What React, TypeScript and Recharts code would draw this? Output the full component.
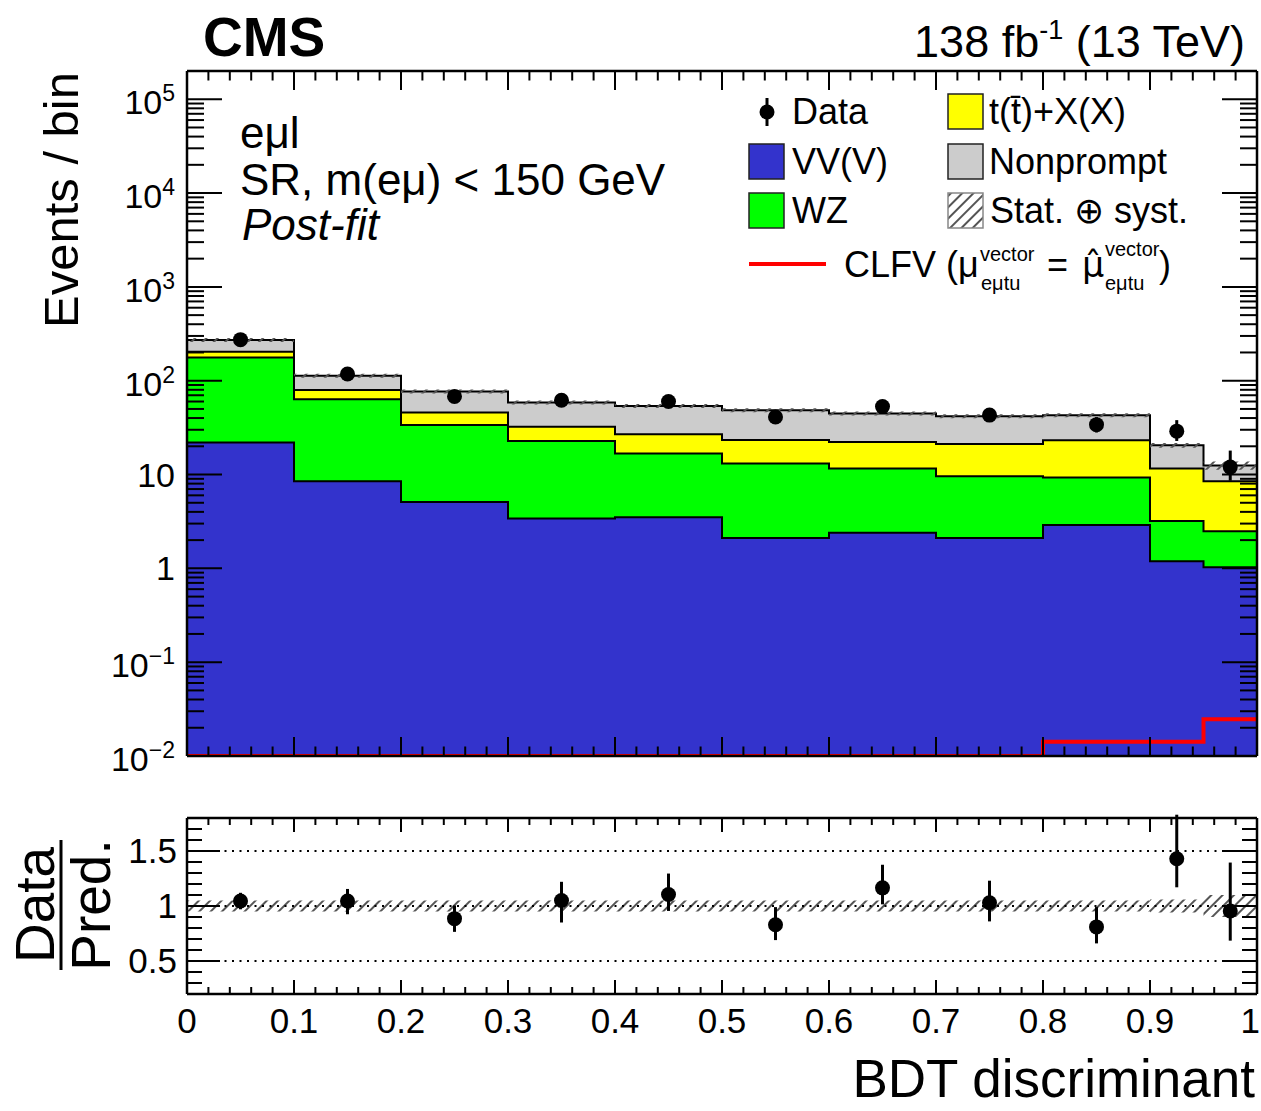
import { Area, ComposedChart, ErrorBar, Line, ReferenceLine, Scatter, XAxis, YAxis } from 'recharts';

// binning of the BDT discriminant
const binEdges = [0, 0.1, 0.2, 0.3, 0.4, 0.5, 0.6, 0.7, 0.8, 0.9, 0.95, 1];
const binCenters = [0.05, 0.15, 0.25, 0.35, 0.45, 0.55, 0.65, 0.75, 0.85, 0.925, 0.975];

// post-fit yields per bin (events / bin)
const vvv = [21.9, 8.5, 5.1, 3.4, 3.5, 2.1, 2.4, 2.1, 2.9, 1.19, 1.03];
const wz = [155, 55, 28.7, 19.4, 13.3, 11.0, 9.2, 7.5, 6.4, 2.0, 1.46];
const ttx = [27, 15.9, 12.0, 9.6, 10.1, 10.3, 10.6, 11.6, 13.9, 8.4, 6.0];
const nonprompt = [68, 33.6, 31.1, 26.2, 27.0, 25.1, 22.6, 20.7, 19.7, 8.9, 4.0];
const clfv = [0.01, 0.01, 0.01, 0.01, 0.01, 0.01, 0.01, 0.01, 0.0142, 0.0142, 0.0247];
const totalUnc = [0.05, 0.05, 0.05, 0.05, 0.05, 0.05, 0.05, 0.05, 0.05, 0.06, 0.1];

const dataCounts = [274, 118, 68, 62, 60, 41, 53, 43, 34, 29, 12];
const dataErrLo = [16, 11, 8, 7.8, 7.7, 6.4, 7.3, 6.6, 5.9, 6.2, 3.4];
const dataErrHi = [17, 12, 9, 8.8, 8.7, 7.4, 8.3, 7.6, 6.9, 9, 6];

const ratio = [1.045, 1.045, 0.885, 1.05, 1.105, 0.83, 1.165, 1.03, 0.81, 1.43, 0.955];
const ratioErrLo = [0.075, 0.12, 0.12, 0.2, 0.15, 0.14, 0.15, 0.17, 0.15, 0.26, 0.27];
const ratioErrHi = [0.075, 0.11, 0.12, 0.17, 0.19, 0.16, 0.21, 0.2, 0.18, 0.4, 0.44];

// axis ticks
const xMajorTicks = [0, 0.1, 0.2, 0.3, 0.4, 0.5, 0.6, 0.7, 0.8, 0.9, 1];
const xTickLabels = ['0', '0.1', '0.2', '0.3', '0.4', '0.5', '0.6', '0.7', '0.8', '0.9', '1'];
const yMajorTicks = [0.01, 0.1, 1, 10, 100, 1000, 10000, 100000];
const yTickLabels = [['10', '−2'], ['10', '−1'], ['1', ''], ['10', ''], ['10', '2'], ['10', '3'], ['10', '4'], ['10', '5']];
const ratioMajorTicks = [0.5, 1, 1.5];
const ratioTickLabels = ['0.5', '1', '1.5'];

const W = 1261;
const FONT = '"Liberation Sans", Arial, Helvetica, sans-serif';
const AXIS = { stroke: '#000', strokeWidth: 2.5 };
const nBins = vvv.length;

const xTicks: number[] = [];
for (let k = 0; k <= 50; k++) xTicks.push(Math.round(k * 2) / 100);
const yTicks: number[] = [];
for (let d = -2; d <= 5; d++) {
  for (let m = 1; m <= 9; m++) {
    const v = m * Math.pow(10, d);
    if (v <= 200000) yTicks.push(v);
  }
}
const ratioTicks: number[] = [];
for (let k = 3; k <= 17; k++) ratioTicks.push(k / 10);

// stacked totals
const cumVV = vvv;
const cumWZ = vvv.map((v, i) => v + wz[i]);
const cumTT = cumWZ.map((v, i) => v + ttx[i]);
const cumAll = cumTT.map((v, i) => v + nonprompt[i]);

// one row per bin edge, the last edge repeats the last bin (step histogram)
const histRows = binEdges.map((x, i) => {
  const j = Math.min(i, nBins - 1);
  return {
    x,
    vv: cumVV[j],
    wz: cumWZ[j],
    tt: cumTT[j],
    all: cumAll[j],
    unc: [cumAll[j] * (1 - totalUnc[j]), cumAll[j] * (1 + totalUnc[j])],
    band: [1 - totalUnc[j], 1 + totalUnc[j]],
    clfv: clfv[j],
  };
});

const dataRows = binCenters.map((x, i) => ({ x, y: dataCounts[i], err: [dataErrLo[i], dataErrHi[i]] }));
const ratioRows = binCenters.map((x, i) => ({ x, y: ratio[i], err: [ratioErrLo[i], ratioErrHi[i]] }));

const near = (a: number, b: number) => Math.abs(a - b) <= 1e-6 * Math.max(1, Math.abs(b));

type TickProps = { x: number; y: number; payload: { value: number } };

function xTick(side: 'top' | 'bottom', majorLen: number, minorLen: number, labels: boolean) {
  return ({ x, y, payload }: TickProps) => {
    const idx = xMajorTicks.findIndex((t) => near(payload.value, t));
    const len = idx >= 0 ? majorLen : minorLen;
    const d = side === 'bottom' ? -1 : 1;
    // the last label sits against the right edge of the picture
    const last = idx === xMajorTicks.length - 1;
    return (
      <g>
        <line x1={x} y1={y} x2={x} y2={y + d * len} stroke="#000" strokeWidth={2} />
        {labels && idx >= 0 ? (
          <text x={last ? x + 3 : x} y={y + 39} textAnchor={last ? 'end' : 'middle'} fontSize={35} fontFamily={FONT} fill="#000">
            {xTickLabels[idx]}
          </text>
        ) : null}
      </g>
    );
  };
}

function logTick(side: 'left' | 'right', labels: boolean) {
  return ({ x, y, payload }: TickProps) => {
    const idx = yMajorTicks.findIndex((t) => near(payload.value, t));
    const len = idx >= 0 ? 35 : 17;
    const d = side === 'left' ? 1 : -1;
    const lab = idx >= 0 ? yTickLabels[idx] : null;
    return (
      <g>
        <line x1={x} y1={y} x2={x + d * len} y2={y} stroke="#000" strokeWidth={2} />
        {labels && lab ? (
          <text x={x - 12} y={y + (lab[1] ? 15 : 12)} textAnchor="end" fontSize={34} fontFamily={FONT} fill="#000">
            {lab[0]}
            {lab[1] ? (
              <tspan dy={-13} fontSize={23}>
                {lab[1]}
              </tspan>
            ) : null}
          </text>
        ) : null}
      </g>
    );
  };
}

function ratioTick(side: 'left' | 'right', labels: boolean) {
  return ({ x, y, payload }: TickProps) => {
    const idx = ratioMajorTicks.findIndex((t) => near(payload.value, t));
    const len = idx >= 0 ? 33 : 15;
    const d = side === 'left' ? 1 : -1;
    return (
      <g>
        <line x1={x} y1={y} x2={x + d * len} y2={y} stroke="#000" strokeWidth={2} />
        {labels && idx >= 0 ? (
          <text x={x - 10} y={y + 12} textAnchor="end" fontSize={35} fontFamily={FONT} fill="#000">
            {ratioTickLabels[idx]}
          </text>
        ) : null}
      </g>
    );
  };
}

const marker = (p: any) => <circle cx={p.cx} cy={p.cy} r={7.5} fill="#000" />;

function Hatch({ id }: { id: string }) {
  return (
    <pattern id={id} width={8} height={8} patternUnits="userSpaceOnUse" patternTransform="rotate(45)">
      <line x1={1} y1={0} x2={1} y2={8} stroke="#555" strokeWidth={2} />
    </pattern>
  );
}

function MainPanel() {
  // 790 px tall so the lowest tick label is not clipped; plot still ends at y = 756
  return (
    <ComposedChart width={W} height={790} margin={{ top: 0, right: 0, bottom: 0, left: 0 }}>
      <defs>
        <Hatch id="hatchMain" />
      </defs>
      <XAxis xAxisId="b" dataKey="x" type="number" domain={[0, 1]} allowDataOverflow ticks={xTicks} interval={0}
        height={34} tickSize={0} tickMargin={0} tickLine={false} axisLine={AXIS} tick={xTick('bottom', 19, 9.5, false)} />
      <XAxis xAxisId="t" orientation="top" dataKey="x" type="number" domain={[0, 1]} allowDataOverflow ticks={xTicks}
        interval={0} height={71} tickSize={0} tickMargin={0} tickLine={false} axisLine={AXIS} tick={xTick('top', 19, 9.5, false)} />
      <YAxis yAxisId="l" type="number" scale="log" domain={[0.01, 200000]} allowDataOverflow ticks={yTicks} interval={0}
        width={187} tickSize={0} tickMargin={0} tickLine={false} axisLine={AXIS} tick={logTick('left', true)} />
      <YAxis yAxisId="r" orientation="right" type="number" scale="log" domain={[0.01, 200000]} allowDataOverflow ticks={yTicks}
        interval={0} width={4} tickSize={0} tickMargin={0} tickLine={false} axisLine={AXIS} tick={logTick('right', false)} />

      <Area xAxisId="b" yAxisId="l" data={histRows} dataKey="all" type="stepAfter" baseValue="dataMin" fill="#cccccc"
        fillOpacity={1} stroke="#000" strokeWidth={2} isAnimationActive={false} />
      <Area xAxisId="b" yAxisId="l" data={histRows} dataKey="tt" type="stepAfter" baseValue="dataMin" fill="#ffff00"
        fillOpacity={1} stroke="#000" strokeWidth={2} isAnimationActive={false} />
      <Area xAxisId="b" yAxisId="l" data={histRows} dataKey="wz" type="stepAfter" baseValue="dataMin" fill="#00ff00"
        fillOpacity={1} stroke="#000" strokeWidth={2} isAnimationActive={false} />
      <Area xAxisId="b" yAxisId="l" data={histRows} dataKey="vv" type="stepAfter" baseValue="dataMin" fill="#3333cc"
        fillOpacity={1} stroke="#000" strokeWidth={2} isAnimationActive={false} />
      <Area xAxisId="b" yAxisId="l" data={histRows} dataKey="unc" type="stepAfter" fill="url(#hatchMain)" fillOpacity={1}
        stroke="none" isAnimationActive={false} />
      <Line xAxisId="b" yAxisId="l" data={histRows} dataKey="clfv" type="stepAfter" stroke="#ff0000" strokeWidth={4}
        dot={false} activeDot={false} isAnimationActive={false} />
      <Scatter xAxisId="b" yAxisId="l" data={dataRows} dataKey="y" shape={marker} isAnimationActive={false}>
        <ErrorBar dataKey="err" direction="y" width={0} stroke="#000" strokeWidth={3} isAnimationActive={false} />
      </Scatter>
    </ComposedChart>
  );
}

function RatioPanel() {
  return (
    <ComposedChart width={W} height={341} margin={{ top: 0, right: 0, bottom: 0, left: 0 }}>
      <defs>
        <Hatch id="hatchRatio" />
      </defs>
      <XAxis xAxisId="b" dataKey="x" type="number" domain={[0, 1]} allowDataOverflow ticks={xTicks} interval={0}
        height={117} tickSize={0} tickMargin={0} tickLine={false} axisLine={AXIS} tick={xTick('bottom', 14, 7, true)} />
      <XAxis xAxisId="t" orientation="top" dataKey="x" type="number" domain={[0, 1]} allowDataOverflow ticks={xTicks}
        interval={0} height={48} tickSize={0} tickMargin={0} tickLine={false} axisLine={AXIS} tick={xTick('top', 14, 7, false)} />
      <YAxis yAxisId="l" type="number" domain={[0.2, 1.8]} allowDataOverflow ticks={ratioTicks} interval={0} width={187}
        tickSize={0} tickMargin={0} tickLine={false} axisLine={AXIS} tick={ratioTick('left', true)} />
      <YAxis yAxisId="r" orientation="right" type="number" domain={[0.2, 1.8]} allowDataOverflow ticks={ratioTicks}
        interval={0} width={4} tickSize={0} tickMargin={0} tickLine={false} axisLine={AXIS} tick={ratioTick('right', false)} />

      <ReferenceLine xAxisId="b" yAxisId="l" y={1.5} stroke="#000" strokeWidth={2} strokeDasharray="2 5.5" />
      <ReferenceLine xAxisId="b" yAxisId="l" y={1} stroke="#000" strokeWidth={2} strokeDasharray="2 5.5" />
      <ReferenceLine xAxisId="b" yAxisId="l" y={0.5} stroke="#000" strokeWidth={2} strokeDasharray="2 5.5" />
      <Area xAxisId="b" yAxisId="l" data={histRows} dataKey="band" type="stepAfter" fill="url(#hatchRatio)" fillOpacity={1}
        stroke="none" isAnimationActive={false} />
      <Scatter xAxisId="b" yAxisId="l" data={ratioRows} dataKey="y" shape={marker} isAnimationActive={false}>
        <ErrorBar dataKey="err" direction="y" width={0} stroke="#000" strokeWidth={3} isAnimationActive={false} />
      </Scatter>
    </ComposedChart>
  );
}

function Overlay() {
  const leg = { fontSize: 36 };
  return (
    <svg width={W} height={1111} fontFamily={FONT}
      style={{ position: 'absolute', left: 0, top: 0, pointerEvents: 'none' }}>
      <defs>
        <Hatch id="hatchLeg" />
      </defs>
      <text x={203} y={56} fontSize={55} fontWeight="bold">CMS</text>
      <text x={1245} y={57} fontSize={45} textAnchor="end">
        138 fb<tspan dy={-18} fontSize={27}>-1</tspan>
        <tspan dy={18}> (13 TeV)</tspan>
      </text>

      <text x={240} y={148} fontSize={44}>eμl</text>
      <text x={240} y={195} fontSize={44}>SR, m(eμ) &lt; 150 GeV</text>
      <text x={242} y={240} fontSize={44} fontStyle="italic">Post-fit</text>

      <text transform="translate(78,72) rotate(-90)" textAnchor="end" fontSize={49}>Events / bin</text>
      <text transform="translate(54,905) rotate(-90)" textAnchor="middle" fontSize={55}>Data</text>
      <line x1={61} y1={840} x2={61} y2={970} stroke="#000" strokeWidth={3} />
      <text transform="translate(110,905) rotate(-90)" textAnchor="middle" fontSize={55}>Pred.</text>
      <text x={1255} y={1097} textAnchor="end" fontSize={53}>BDT discriminant</text>

      {/* legend */}
      <line x1={767} y1={98} x2={767} y2={126} stroke="#000" strokeWidth={3} />
      <circle cx={767} cy={112} r={7.5} fill="#000" />
      <text x={792} y={124} {...leg}>Data</text>
      <rect x={948} y={94} width={35} height={35} fill="#ffff00" stroke="#222" strokeWidth={1.5} />
      <text x={989} y={124} {...leg}>t(t̄)+X(X)</text>
      <rect x={749} y={144} width={35} height={35} fill="#3333cc" stroke="#222" strokeWidth={1.5} />
      <text x={792} y={174} {...leg}>VV(V)</text>
      <rect x={948} y={144} width={35} height={35} fill="#cccccc" stroke="#222" strokeWidth={1.5} />
      <text x={989} y={174} {...leg}>Nonprompt</text>
      <rect x={749} y={193} width={35} height={35} fill="#00ff00" stroke="#222" strokeWidth={1.5} />
      <text x={792} y={223} {...leg}>WZ</text>
      <rect x={948} y={193} width={35} height={35} fill="url(#hatchLeg)" stroke="#888" strokeWidth={1.5} />
      <text x={990} y={223} {...leg}>Stat. ⊕ syst.</text>
      <line x1={749} y1={264} x2={826} y2={264} stroke="#ff0000" strokeWidth={4} />
      <text x={844} y={277} {...leg}>CLFV (μ</text>
      <text x={980} y={261} fontSize={20}>vector</text>
      <text x={981} y={290} fontSize={20}>eμtu</text>
      <text x={1047} y={277} {...leg}>=</text>
      <text x={1082} y={277} fontSize={35} fontFamily="DejaVu Sans">μ̂</text>
      <text x={1105} y={256} fontSize={20}>vector</text>
      <text x={1105} y={290} fontSize={20}>eμtu</text>
      <text x={1159} y={277} {...leg}>)</text>
    </svg>
  );
}

export default function App() {
  return (
    <div style={{ position: 'absolute', left: 0, top: 0, width: W, height: 1111, background: '#fff' }}>
      <div style={{ position: 'absolute', left: 0, top: 0 }}>
        <MainPanel />
      </div>
      <div style={{ position: 'absolute', left: 0, top: 770 }}>
        <RatioPanel />
      </div>
      <Overlay />
    </div>
  );
}
